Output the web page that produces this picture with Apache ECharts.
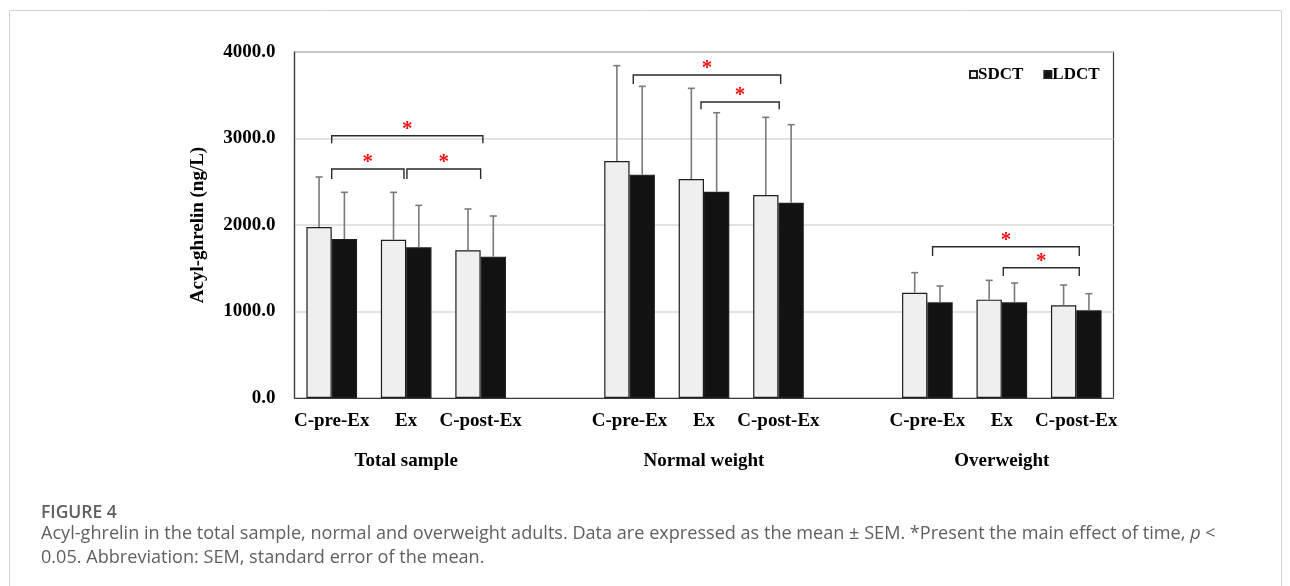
<!DOCTYPE html>
<html>
<head>
<meta charset="utf-8">
<script src="https://cdn.jsdelivr.net/npm/echarts@6/dist/echarts.min.js"></script>
<style>
html,body{margin:0;padding:0;background:#fff;}
#chart{width:1290px;height:586px;}
</style>
</head>
<body>
<div id="chart"></div>
<script>
// ---- data ----
var categories = ['C-pre-Ex','Ex','C-post-Ex','','C-pre-Ex','Ex','C-post-Ex','','C-pre-Ex','Ex','C-post-Ex'];
var groupLabels = ['','Total sample','','','','Normal weight','','','','Overweight',''];
var sdctMean = [1977, 1830, 1707, null, 2740, 2532, 2347, null, 1217, 1137, 1071];
var sdctSem  = [578, 548, 478, null, 1102, 1048, 898, null, 232, 223, 235];
var ldctMean = [1838, 1742, 1634, null, 2582, 2385, 2258, null, 1106, 1106, 1014];
var ldctSem  = [540, 485, 470, null, 1021, 913, 902, null, 189, 223, 192];
var yTicks = [0, 1000, 2000, 3000, 4000];
// significance brackets: [start position, end position, bracket level, leg end]
var bracketStart = [0.0, 0.0, 1.01, 4.05, 4.96, 8.07, 9.02];
var bracketEnd   = [2.03, 0.97, 2.0, 6.03, 6.01, 10.04, 10.04];
var bracketTop   = [3032, 2647, 2647, 3734, 3422, 1749, 1506];
var bracketLeg   = [2945, 2532, 2532, 3630, 3337, 1642, 1410];
var seriesNames = ['SDCT', 'LDCT'];

var SERIF = "'Liberation Serif','Times New Roman',serif";
var SANS = "'Open Sans', Lato, sans-serif";
var BAR_FRAC = 0.34;

var errSd = [], errLd = [];
for (var i = 0; i < categories.length; i++) {
  if (sdctMean[i] != null) errSd.push([i - BAR_FRAC / 2, sdctMean[i], sdctMean[i] + sdctSem[i]]);
  if (ldctMean[i] != null) errLd.push([i + BAR_FRAC / 2, ldctMean[i], ldctMean[i] + ldctSem[i]]);
}
var bracketData = bracketStart.map(function (s, k) {
  return [s, bracketEnd[k], bracketTop[k], bracketLeg[k]];
});

function renderErr(params, api) {
  var x = api.value(0);
  var p0 = api.coord([x, api.value(1)]);
  var p1 = api.coord([x, api.value(2)]);
  var style = { stroke: '#7a7a7a', lineWidth: 1.6 };
  return {
    type: 'group',
    children: [
      { type: 'line', shape: { x1: p0[0], y1: p0[1], x2: p1[0], y2: p1[1] }, style: style },
      { type: 'line', shape: { x1: p1[0] - 3.5, y1: p1[1], x2: p1[0] + 3.5, y2: p1[1] }, style: style }
    ]
  };
}
function renderBracket(params, api) {
  var a = api.coord([api.value(0), api.value(2)]);
  var b = api.coord([api.value(1), api.value(2)]);
  var aL = api.coord([api.value(0), api.value(3)]);
  var bL = api.coord([api.value(1), api.value(3)]);
  return {
    type: 'group',
    children: [
      { type: 'polyline',
        shape: { points: [[aL[0], aL[1]], [a[0], a[1]], [b[0], b[1]], [bL[0], bL[1]]] },
        style: { stroke: '#2a2a2a', lineWidth: 1.4, fill: null } },
      { type: 'text',
        style: { text: '*', x: (a[0] + b[0]) / 2, y: a[1] - 6, align: 'center', verticalAlign: 'middle',
                 fill: '#ee1111', font: 'bold 21px ' + SERIF } }
    ]
  };
}

var chart = echarts.init(document.getElementById('chart'), null, { renderer: 'canvas' });
chart.setOption({
  animation: false,
  backgroundColor: '#ffffff',
  grid: { left: 294.5, right: 176.5, top: 52, height: 346, show: true,
          borderColor: '#3a3a3a', borderWidth: 1.2, backgroundColor: 'transparent' },
  legend: {
    left: 964, top: 61, itemWidth: 7, itemHeight: 7, itemGap: 20, icon: 'rect',
    data: seriesNames,
    textStyle: { fontFamily: SERIF, fontWeight: 'bold', fontSize: 17, color: '#000', padding: [0, 0, 0, -4] }
  },
  xAxis: [
    { type: 'category', data: categories, position: 'bottom',
      axisLine: { show: true, onZero: false, lineStyle: { color: '#3a3a3a', width: 1.2 } },
      axisTick: { show: false },
      axisLabel: { interval: 0, margin: 14, fontFamily: SERIF, fontWeight: 'bold', fontSize: 19, color: '#000' } },
    { type: 'category', data: groupLabels, position: 'bottom', gridIndex: 0,
      axisLine: { show: false }, axisTick: { show: false }, splitLine: { show: false },
      axisLabel: { interval: 0, margin: 54, fontFamily: SERIF, fontWeight: 'bold', fontSize: 19, color: '#000' } },
    { type: 'value', min: -0.5, max: 10.5, show: false, gridIndex: 0 }
  ],
  yAxis: {
    type: 'value', min: yTicks[0], max: yTicks[yTicks.length - 1], interval: 1000,
    name: 'Acyl-ghrelin (ng/L)', nameLocation: 'middle', nameGap: 87,
    nameTextStyle: { fontFamily: SERIF, fontWeight: 'bold', fontSize: 19, color: '#000' },
    axisLine: { show: true, onZero: false, lineStyle: { color: '#3a3a3a', width: 1.2 } },
    axisTick: { show: false },
    splitLine: { lineStyle: { color: '#d8d8d8', width: 1.5 } },
    axisLabel: { margin: 19, fontFamily: SERIF, fontWeight: 'bold', fontSize: 19, color: '#000',
                 formatter: function (v) { return v.toFixed(1); } }
  },
  series: [
    { name: seriesNames[0], type: 'bar', xAxisIndex: 0, data: sdctMean, barWidth: (BAR_FRAC * 100) + '%', barGap: '0%',
      itemStyle: { color: '#efefef', borderColor: '#1e1e1e', borderWidth: 1.2 } },
    { name: seriesNames[1], type: 'bar', xAxisIndex: 0, data: ldctMean, barWidth: (BAR_FRAC * 100) + '%', barGap: '0%',
      itemStyle: { color: '#121212', borderColor: '#1e1e1e', borderWidth: 1.2 } },
    { type: 'custom', xAxisIndex: 2, yAxisIndex: 0, data: errSd, renderItem: renderErr, z: 3,
      encode: { x: 0, y: [1, 2] }, silent: true },
    { type: 'custom', xAxisIndex: 2, yAxisIndex: 0, data: errLd, renderItem: renderErr, z: 3,
      encode: { x: 0, y: [1, 2] }, silent: true },
    { type: 'custom', xAxisIndex: 2, yAxisIndex: 0, data: bracketData, renderItem: renderBracket, z: 4,
      encode: { x: [0, 1], y: [2, 3] }, silent: true }
  ],
  graphic: [
    { type: 'polyline', silent: true,
      shape: { points: [[9.5, 586], [9.5, 10.5], [1281.5, 10.5], [1281.5, 586]] },
      style: { stroke: '#d4d4d4', lineWidth: 1, fill: null } },
    { type: 'text', left: 41, top: 502,
      style: { text: 'FIGURE 4', font: '600 17.5px ' + SANS, lineHeight: 22, fill: '#5f5f5f' } },
    { type: 'text', left: 41, top: 525,
      style: {
        text: '{n|Acyl-ghrelin in the total sample, normal and overweight adults. Data are expressed as the mean ± SEM. *Present the main effect of time, }{i|p}{n| <}',
        rich: {
          n: { font: '18.1px ' + SANS, lineHeight: 22, fill: '#5f5f5f' },
          i: { font: 'italic 18.1px ' + SANS, lineHeight: 22, fill: '#5f5f5f' }
        }
      } },
    { type: 'text', left: 41, top: 546.5,
      style: { text: '0.05. Abbreviation: SEM, standard error of the mean.', font: '18.1px ' + SANS, lineHeight: 22, fill: '#5f5f5f' } }
  ]
});
</script>
</body>
</html>
